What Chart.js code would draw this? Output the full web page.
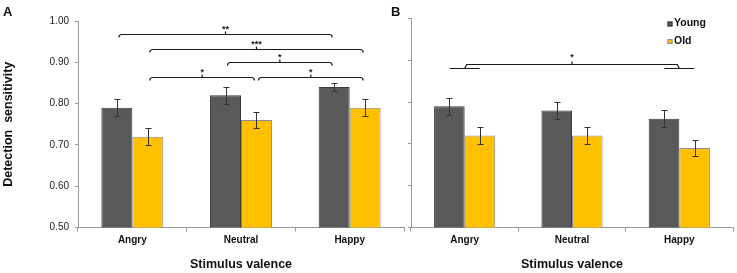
<!DOCTYPE html>
<html>
<head>
<meta charset="utf-8">
<title>Detection sensitivity by stimulus valence</title>
<script src="https://cdn.jsdelivr.net/npm/chart.js@4.4.0/dist/chart.umd.min.js"></script>
<style>
  html, body { margin: 0; padding: 0; background: #fff; }
  #wrap { position: relative; width: 737px; height: 273px; overflow: hidden; }
  #chartA { position: absolute; left: 0; top: 0; }
  #chartB { position: absolute; left: 385px; top: 0; }
</style>
</head>
<body>
<div id="wrap">
  <canvas id="chartA" width="406" height="273"></canvas>
  <canvas id="chartB" width="352" height="273"></canvas>
</div>
<script>
'use strict';

/* ── Data ─────────────────────────────────────────────────────────────── */

const CATEGORIES = ['Angry', 'Neutral', 'Happy'];
const SERIES = ['Young', 'Old'];
const Y_TICKS = [0.5, 0.6, 0.7, 0.8, 0.9, 1.0];

// panel A: detection sensitivity, mean and SE
const A_YOUNG = [0.79, 0.82, 0.84];
const A_OLD = [0.72, 0.76, 0.79];
const A_YOUNG_ERR = [0.02, 0.02, 0.01];
const A_OLD_ERR = [0.02, 0.02, 0.02];

// panel B
const B_YOUNG = [0.79, 0.78, 0.76];
const B_OLD = [0.72, 0.72, 0.69];
const B_YOUNG_ERR = [0.02, 0.02, 0.02];
const B_OLD_ERR = [0.02, 0.02, 0.02];

// significance brackets: from/to = [category, series] (bar) or category (group)
const A_SIG = [
    { from: [0, 0], to: [2, 0], at: 0.968, stars: '**' },
    { from: [0, 1], to: [2, 1], at: 0.932, stars: '***' },
    { from: [1, 0], to: [2, 0], at: 0.900, stars: '*' },
    { from: [0, 1], to: [1, 1], at: 0.864, stars: '*' },
    { from: [1, 1], to: [2, 1], at: 0.864, stars: '*' },
];
const B_SIG = [
    { from: 0, to: 2, at: 0.891, stars: '*' },
];

/* ── Style ────────────────────────────────────────────────────────────── */

const FONT = "'Liberation Sans', Arial, sans-serif";
const COLORS = {
    young: '#595959', youngEdge: '#3a3a3a',
    old: '#ffc000', oldEdge: '#8a8aa6',
    axis: '#9a9a9a', text: '#111',
};

/* ── Plugins ──────────────────────────────────────────────────────────── */

const errorBars = {
    id: 'errorBars',
    afterDatasetsDraw(chart) {
        const { ctx } = chart;
        const y = chart.scales.y;
        ctx.save();
        ctx.strokeStyle = '#333';
        ctx.lineWidth = 1;
        chart.data.datasets.forEach((ds, di) => {
            chart.getDatasetMeta(di).data.forEach((bar, i) => {
                const top = Math.round(y.getPixelForValue(ds.data[i] + ds.err[i])) + 0.5;
                const bot = Math.round(y.getPixelForValue(ds.data[i] - ds.err[i])) + 0.5;
                const x = Math.round(bar.x) + 0.5;
                ctx.beginPath();
                ctx.moveTo(x, top); ctx.lineTo(x, bot);
                ctx.moveTo(x - 3, top); ctx.lineTo(x + 3, top);
                ctx.moveTo(x - 3, bot); ctx.lineTo(x + 3, bot);
                ctx.stroke();
            });
        });
        ctx.restore();
    },
};

const sigBrackets = {
    id: 'sigBrackets',
    afterDraw(chart, args, opts) {
        if (!opts.items) return;
        const { ctx } = chart;
        const x = chart.scales.x, y = chart.scales.y;
        const xOf = ref => Array.isArray(ref)
            ? chart.getDatasetMeta(ref[1]).data[ref[0]].x
            : x.getPixelForValue(ref);
        ctx.save();
        ctx.strokeStyle = '#1a1a1a';
        ctx.fillStyle = '#1a1a1a';
        ctx.lineWidth = 1.2;
        ctx.font = `bold 9px ${FONT}`;
        ctx.textAlign = 'center';
        ctx.textBaseline = 'middle';
        opts.items.forEach(s => {
            const group = !Array.isArray(s.from);
            const inset = group ? 0 : 2;
            const x1 = xOf(s.from) + inset, x2 = xOf(s.to) - inset;
            const yy = Math.round(y.getPixelForValue(s.at)) + 0.5;
            const cx = (x1 + x2) / 2;
            ctx.beginPath();
            if (group) {
                ctx.moveTo(x1, yy + 4); ctx.lineTo(x1 + 2, yy); ctx.lineTo(x2 - 2, yy); ctx.lineTo(x2, yy + 4);
                ctx.moveTo(x1 - 15, yy + 4); ctx.lineTo(x1 + 15, yy + 4);
                ctx.moveTo(x2 - 15, yy + 4); ctx.lineTo(x2 + 15, yy + 4);
            } else {
                ctx.moveTo(x1, yy + 3); ctx.quadraticCurveTo(x1, yy, x1 + 3, yy);
                ctx.lineTo(x2 - 3, yy); ctx.quadraticCurveTo(x2, yy, x2, yy + 3);
            }
            ctx.moveTo(cx, yy); ctx.lineTo(cx, yy - 3);
            ctx.stroke();
            ctx.fillText(s.stars, cx, yy - (group ? 7 : 5));
        });
        ctx.restore();
    },
};

const panelTag = {
    id: 'panelTag',
    afterDraw(chart, args, opts) {
        const { ctx } = chart;
        ctx.save();
        ctx.fillStyle = COLORS.text;
        ctx.font = `bold 13px ${FONT}`;
        ctx.textAlign = 'left';
        ctx.textBaseline = 'alphabetic';
        ctx.fillText(opts.text, opts.x, 16);
        ctx.restore();
    },
};

const boxLegend = {
    id: 'boxLegend',
    afterDraw(chart, args, opts) {
        if (!opts.show) return;
        const { ctx } = chart;
        ctx.save();
        ctx.font = `bold 10.5px ${FONT}`;
        ctx.textAlign = 'left';
        ctx.textBaseline = 'alphabetic';
        chart.data.datasets.forEach((ds, i) => {
            const base = opts.y + i * 17.5;
            ctx.fillStyle = ds.backgroundColor;
            ctx.strokeStyle = ds.borderColor;
            ctx.lineWidth = 1;
            ctx.fillRect(opts.x, base - 4.5, 5, 5);
            ctx.strokeRect(opts.x + 0.5, base - 4, 4, 4);
            ctx.fillStyle = COLORS.text;
            ctx.fillText(ds.label, opts.x + 6.5, base);
        });
        ctx.restore();
    },
};

/* ── Chart factory ────────────────────────────────────────────────────── */

function makePanel(id, young, old, youngErr, oldErr, cfg) {
    return new Chart(document.getElementById(id), {
        type: 'bar',
        data: {
            labels: CATEGORIES,
            datasets: [
                { label: SERIES[0], data: young, err: youngErr,
                  backgroundColor: COLORS.young, borderColor: COLORS.youngEdge, borderWidth: 1 },
                { label: SERIES[1], data: old, err: oldErr,
                  backgroundColor: COLORS.old, borderColor: COLORS.oldEdge, borderWidth: 1 },
            ],
        },
        options: {
            responsive: false,
            animation: false,
            layout: { padding: cfg.padding },
            datasets: { bar: { categoryPercentage: 0.57, barPercentage: 1 } },
            plugins: {
                legend: { display: false },
                tooltip: { enabled: false },
                sigBrackets: { items: cfg.sig },
                panelTag: { text: cfg.tag, x: cfg.tagX },
                boxLegend: { show: cfg.legend, x: 282.5, y: 26 },
            },
            scales: {
                x: {
                    grid: { display: true, drawOnChartArea: false, tickLength: 4, color: COLORS.axis, offset: true },
                    border: { color: COLORS.axis },
                    ticks: { color: COLORS.text, font: { family: FONT, size: 10, weight: 'bold' }, padding: 3 },
                    title: { display: true, text: 'Stimulus valence', color: COLORS.text,
                             font: { family: FONT, size: 12.5, weight: 'bold' }, padding: { top: 0, bottom: 0.5 } },
                    afterFit: s => { s.height = 45.5; },
                },
                y: {
                    min: 0.5, max: 1.0,
                    afterBuildTicks: s => { s.ticks = Y_TICKS.map(v => ({ value: v })); },
                    grid: { display: true, drawOnChartArea: false, tickLength: 3, color: COLORS.axis },
                    border: { color: COLORS.axis },
                    ticks: { display: cfg.yLabels, color: '#222', padding: 6,
                             font: { family: FONT, size: 10 }, callback: v => v.toFixed(2) },
                    title: { display: cfg.yLabels, text: 'Detection  sensitivity', color: COLORS.text,
                             font: { family: FONT, size: 12.5, weight: 'bold' }, padding: { top: 1.5, bottom: 0 } },
                    afterFit: s => { s.width = cfg.yWidth; },
                },
            },
        },
        plugins: [errorBars, sigBrackets, panelTag, boxLegend],
    });
}

makePanel('chartA', A_YOUNG, A_OLD, A_YOUNG_ERR, A_OLD_ERR, {
    tag: 'A', tagX: 3, sig: A_SIG, legend: false, yLabels: true, yWidth: 78,
    padding: { top: 21, right: 2, bottom: 0, left: 0 },
});

makePanel('chartB', B_YOUNG, B_OLD, B_YOUNG_ERR, B_OLD_ERR, {
    tag: 'B', tagX: 6, sig: B_SIG, legend: true, yLabels: false, yWidth: 26,
    padding: { top: 18.5, right: 4, bottom: 0, left: 0 },
});
</script>
</body>
</html>
